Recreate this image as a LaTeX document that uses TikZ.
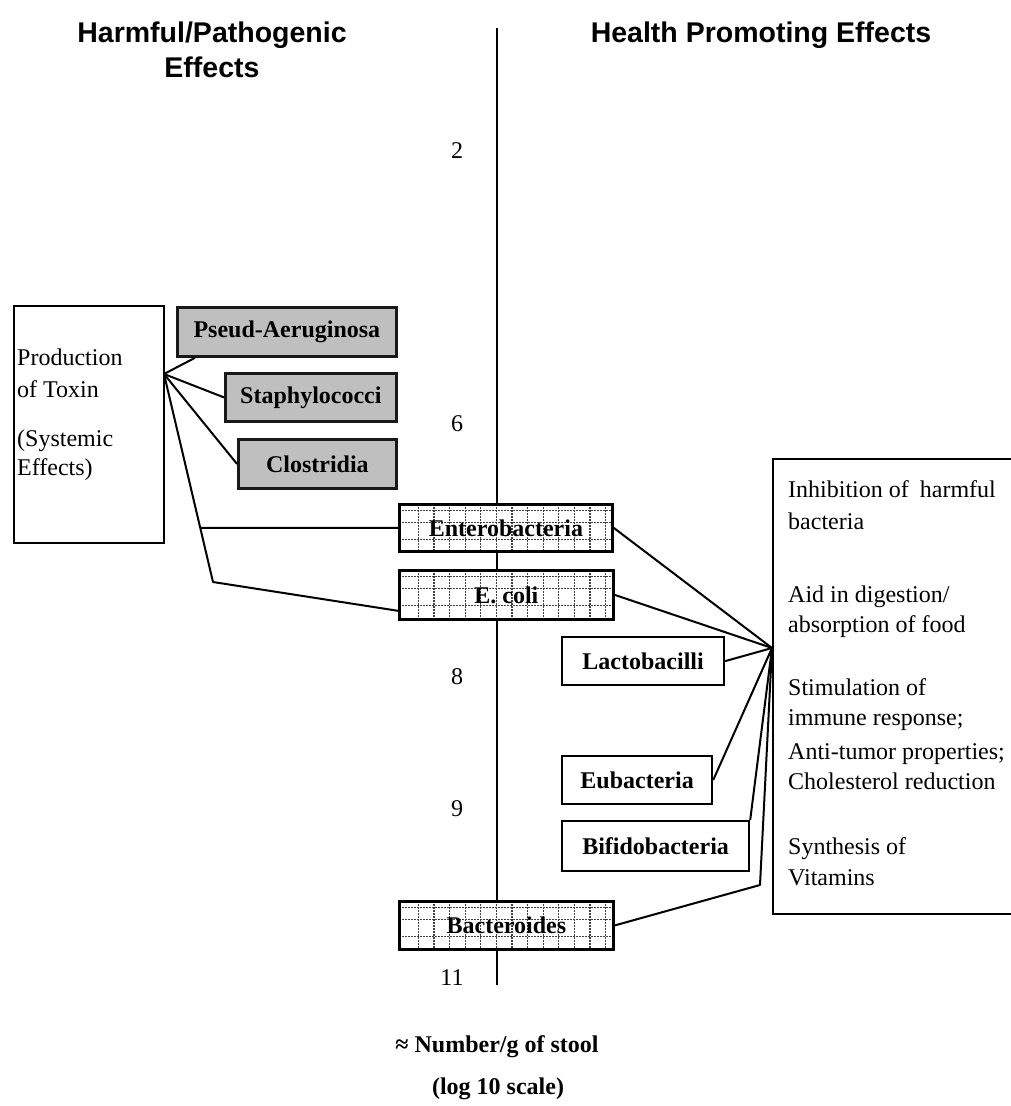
\documentclass[tikz,border=0pt]{standalone}
\usepackage{fontspec}
\setmainfont{Liberation Serif}
\setsansfont{Liberation Sans}
\usetikzlibrary{calc}

\newcommand{\labelsize}{\fontsize{24}{30}\selectfont}
\newcommand{\headsize}{\fontsize{28.5}{35}\selectfont}

\tikzset{
  link/.style={line width=2pt, line join=round},
  axisline/.style={line width=2.2pt},
  boxbase/.style={draw, line width=2.2pt, inner sep=0pt, anchor=north west,
    font=\labelsize\bfseries},
  harmbox/.style={boxbase, fill=black!25, draw=black!90, line width=2.8pt},
  plainbox/.style={boxbase, fill=white},
  gridline/.style={line width=1.3pt, dash pattern=on 1.3pt off 1.7pt, black!75},
  gridbox/.style={boxbase, fill=white, line width=2.8pt, path picture={
      \foreach \dy in {6,18,35}
        \draw[gridline] ([yshift=-\dy pt]path picture bounding box.north west)
          -- ([yshift=-\dy pt]path picture bounding box.north east);
      \foreach \k in {0,...,13}
        \draw[gridline] ([xshift=19pt+\k*15.6pt]path picture bounding box.north west)
          -- ([xshift=19pt+\k*15.6pt]path picture bounding box.south west);
    }},
  notetext/.style={anchor=base west, inner sep=0pt, font=\labelsize},
  scalenum/.style={anchor=base, inner sep=0pt, font=\labelsize},
  heading/.style={anchor=base, inner sep=0pt, font=\headsize\sffamily\bfseries},
  caption/.style={anchor=base, inner sep=0pt, font=\labelsize\bfseries},
}

\begin{document}
\begin{tikzpicture}[x=1pt, y=-1pt]
\useasboundingbox (0,0) rectangle (1011,1106);

% headings
\node[heading] (hleft1) at (212,42) {Harmful/Pathogenic};
\node[heading] (hleft2) at (212,77) {Effects};
\node[heading] (hright) at (761,42) {Health Promoting Effects};

% central scale
\coordinate (axtop) at (497,28);
\coordinate (axbot) at (497,985);
\draw[axisline] (axtop) -- (axbot);
\node[scalenum] (n2) at (457,158) {2};
\node[scalenum] (n6) at (457,431) {6};
\node[scalenum] (n8) at (457,684) {8};
\node[scalenum] (n9) at (457,816) {9};
\node[scalenum] (n11) at (452,985) {11};

% harmful effects box
\node[draw, line width=2pt, inner sep=0pt, anchor=north west,
      minimum width=150, minimum height=237] (toxin) at (13,305) {};
\node[notetext] (tx1) at (17,365) {Production};
\node[notetext] (tx2) at (17,397) {of Toxin};
\node[notetext] (tx3) at (17,446) {(Systemic};
\node[notetext] (tx4) at (17,475) {Effects)};

% health promoting effects box
\node[draw, line width=2pt, inner sep=0pt, anchor=north west,
      minimum width=260, minimum height=455] (benefit) at (772,458) {};
\foreach \t/\y [count=\i] in {
    Inhibition of\hspace{5pt} harmful/497, bacteria/529,
    Aid in digestion\slash/602, absorption of food/632,
    Stimulation of/695, immune response;/725,
    Anti-tumor properties;/759, Cholesterol reduction/789,
    Synthesis of/854, Vitamins/885}
  \node[notetext] (bt\i) at (788,\y) {\t};

% bacteria groups
\node[harmbox, minimum width=219, minimum height=49] (pseud) at (176,306) {Pseud-Aeruginosa};
\node[harmbox, minimum width=171, minimum height=48] (staph) at (224,372) {Staphylococci};
\node[harmbox, minimum width=158, minimum height=49] (clos) at (237,438) {Clostridia};

\node[gridbox, minimum width=213, minimum height=47] (entero) at (398,503) {Enterobacteria};
\node[gridbox, minimum width=214, minimum height=49] (ecoli) at (398,569) {E. coli};
\node[gridbox, minimum width=214, minimum height=48] (bactero) at (398,900) {Bacteroides};

\node[plainbox, minimum width=162, minimum height=48] (lacto) at (561,636) {Lactobacilli};
\node[plainbox, minimum width=150, minimum height=48] (eubac) at (561,755) {Eubacteria};
\node[plainbox, minimum width=187, minimum height=50] (bifido) at (561,820) {Bifidobacteria};

% links to harmful effects
\coordinate (lhub) at (164,374);
\coordinate (lbend) at (213,582);
\draw[link] (lhub) -- ($(pseud.south west)+(19,0)$);
\draw[link] (lhub) -- (staph.west);
\draw[link] (lhub) -- (clos.west);
\draw[link] (lhub) -- (lbend) -- ($(ecoli.south west)+(0,-10)$);
\draw[link] (intersection of lhub--lbend and entero.west--entero.east) -- (entero.west);

% links to health promoting effects
\coordinate (rhub) at (772,648);
\coordinate (rbend) at (760,885);
\draw[link] (entero.east) -- (rhub);
\draw[link] (ecoli.east) -- (rhub);
\draw[link] (lacto.east) -- (rhub);
\draw[link] (eubac.east) -- (rhub);
\draw[link] (bifido.north east) -- (rhub);
\draw[link] (bactero.east) -- (rbend) -- (rhub);

% scale caption
\node[caption] (cap1) at (497,1052) {≈ Number/g of stool};
\node[caption] (cap2) at (498,1094) {(log 10 scale)};
\end{tikzpicture}
\end{document}
